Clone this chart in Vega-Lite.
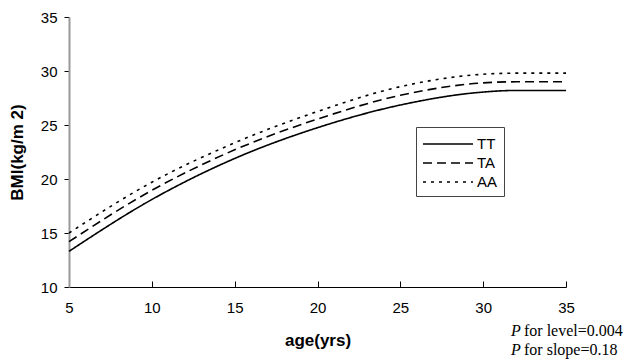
{
  "$schema": "https://vega.github.io/schema/vega-lite/v6.json",
  "width": 497,
  "height": 270,
  "autosize": "none",
  "padding": {"left": 69, "top": 17, "right": 67, "bottom": 73},
  "background": "white",
  "config": {"view": {"stroke": null}, "font": "Liberation Sans"},
  "datasets": {
    "curves": [
      {"age": 5, "bmi": 13.3, "genotype": "TT"},
      {"age": 10, "bmi": 18.1, "genotype": "TT"},
      {"age": 15, "bmi": 21.9, "genotype": "TT"},
      {"age": 20, "bmi": 24.75, "genotype": "TT"},
      {"age": 25, "bmi": 26.85, "genotype": "TT"},
      {"age": 30, "bmi": 28.05, "genotype": "TT"},
      {"age": 32, "bmi": 28.2, "genotype": "TT"},
      {"age": 35, "bmi": 28.2, "genotype": "TT"},
      {"age": 5, "bmi": 14.2, "genotype": "TA"},
      {"age": 10, "bmi": 18.95, "genotype": "TA"},
      {"age": 15, "bmi": 22.7, "genotype": "TA"},
      {"age": 20, "bmi": 25.55, "genotype": "TA"},
      {"age": 25, "bmi": 27.75, "genotype": "TA"},
      {"age": 30, "bmi": 28.9, "genotype": "TA"},
      {"age": 32, "bmi": 29.0, "genotype": "TA"},
      {"age": 35, "bmi": 29.0, "genotype": "TA"},
      {"age": 5, "bmi": 15.0, "genotype": "AA"},
      {"age": 10, "bmi": 19.7, "genotype": "AA"},
      {"age": 15, "bmi": 23.35, "genotype": "AA"},
      {"age": 20, "bmi": 26.25, "genotype": "AA"},
      {"age": 25, "bmi": 28.55, "genotype": "AA"},
      {"age": 30, "bmi": 29.7, "genotype": "AA"},
      {"age": 32, "bmi": 29.8, "genotype": "AA"},
      {"age": 35, "bmi": 29.8, "genotype": "AA"}
    ],
    "notes": [
      {"age": 35, "bmi": 5.93, "p": "P", "rest": "for level=0.004"},
      {"age": 35, "bmi": 4.17, "p": "P", "rest": "for slope=0.18"}
    ]
  },
  "layer": [
    {
      "data": {"name": "curves"},
      "mark": {"type": "line", "interpolate": "monotone", "strokeWidth": 1.6, "color": "black"},
      "encoding": {
        "x": {
          "field": "age", "type": "quantitative",
          "scale": {"domain": [5, 35], "nice": false, "zero": false},
          "axis": {
            "values": [5, 10, 15, 20, 25, 30, 35],
            "title": "age(yrs)", "titleFontSize": 17, "titleFontWeight": "bold", "titleColor": "black",
            "titleY": 53, "titleBaseline": "middle",
            "grid": false, "domainColor": "black", "domainWidth": 1,
            "tickColor": "black", "tickSize": -6, "labelPadding": 19,
            "labelFontSize": 15, "labelColor": "black", "labelFlush": false
          }
        },
        "y": {
          "field": "bmi", "type": "quantitative",
          "scale": {"domain": [10, 35], "nice": false, "zero": false},
          "axis": {
            "values": [10, 15, 20, 25, 30, 35],
            "title": "BMI(kg/m 2)", "titleFontSize": 17, "titleFontWeight": "bold", "titleColor": "black",
            "titleX": -52, "titleY": 135, "titleAngle": -90, "titleAlign": "center", "titleBaseline": "middle",
            "grid": false, "domainColor": "#999999", "domainWidth": 2,
            "tickColor": "black", "tickSize": 5, "labelPadding": 7,
            "labelFontSize": 15, "labelColor": "black"
          }
        },
        "strokeDash": {
          "field": "genotype", "type": "nominal",
          "sort": ["TT", "TA", "AA"],
          "scale": {"domain": ["TT", "TA", "AA"], "range": [[1, 0], [9, 5], [3, 5]]},
          "legend": {
            "title": null, "orient": "none", "legendX": 347, "legendY": 110,
            "strokeColor": "#444444", "fillColor": "white", "padding": 6,
            "symbolType": "M-1,0H4", "symbolSize": 400, "symbolStrokeWidth": 1.6, "symbolStrokeColor": "black",
            "labelFontSize": 15, "labelColor": "black", "labelOffset": 33, "rowPadding": 0
          }
        }
      }
    },
    {
      "data": {"name": "notes"},
      "mark": {"type": "text", "font": "Liberation Serif", "fontStyle": "italic", "fontSize": 16, "align": "left", "baseline": "middle", "dx": -55, "color": "black"},
      "encoding": {
        "x": {"field": "age", "type": "quantitative"},
        "y": {"field": "bmi", "type": "quantitative"},
        "text": {"field": "p"}
      }
    },
    {
      "data": {"name": "notes"},
      "mark": {"type": "text", "font": "Liberation Serif", "fontSize": 16, "align": "left", "baseline": "middle", "dx": -42, "color": "black"},
      "encoding": {
        "x": {"field": "age", "type": "quantitative"},
        "y": {"field": "bmi", "type": "quantitative"},
        "text": {"field": "rest"}
      }
    }
  ]
}
